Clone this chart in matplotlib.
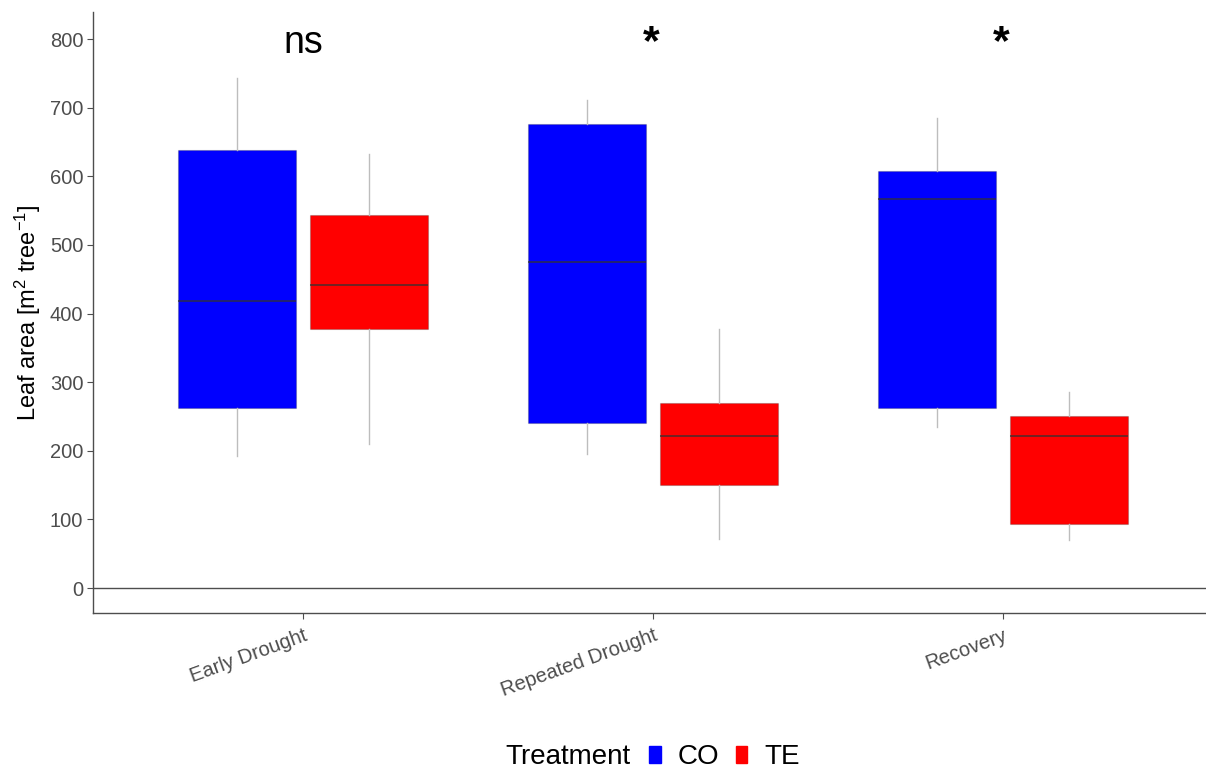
import numpy as np
import matplotlib
matplotlib.use("Agg")
import matplotlib.pyplot as plt
from matplotlib.patches import Patch

plt.rcParams['font.family'] = ['Liberation Sans', 'DejaVu Sans']
plt.rcParams['mathtext.fontset'] = 'custom'
plt.rcParams['mathtext.rm'] = 'Liberation Sans'
plt.rcParams['mathtext.it'] = 'Liberation Sans'
plt.rcParams['mathtext.default'] = 'rm'

periodos = ['Early Drought', 'Repeated Drought', 'Recovery']
tratamentos = ['CO', 'TE']
cores = {'CO': '#0000ff', 'TE': '#ff0000'}

# whisker low, Q1, median, Q3, whisker high (m2 tree-1)
co_whislo = [193, 195, 235]
co_q1 = [262, 240, 262]
co_med = [419, 475, 567]
co_q3 = [639, 677, 608]
co_whishi = [743, 711, 685]

te_whislo = [210, 71, 70]
te_q1 = [378, 150, 93]
te_med = [442, 222, 221]
te_q3 = [544, 270, 251]
te_whishi = [633, 377, 286]

signif = ['ns', '*', '*']

dados = {
    'CO': (co_whislo, co_q1, co_med, co_q3, co_whishi),
    'TE': (te_whislo, te_q1, te_med, te_q3, te_whishi),
}

fig = plt.figure(figsize=(12.06, 7.72), dpi=100)
ax = fig.add_axes([93 / 1206, 1 - 613 / 772, 1 - 93 / 1206, (613 - 12) / 772])

x = np.arange(1, len(periodos) + 1)
desloc = {'CO': -0.189, 'TE': 0.189}

for t in tratamentos:
    lo, q1, med, q3, hi = dados[t]
    stats = [dict(whislo=lo[i], q1=q1[i], med=med[i], q3=q3[i], whishi=hi[i], fliers=[])
             for i in range(len(periodos))]
    ax.bxp(stats, positions=x + desloc[t], widths=0.338, patch_artist=True,
           showcaps=False, showfliers=False,
           boxprops=dict(facecolor=cores[t], edgecolor=(0.2, 0.2, 0.2, 0.25), linewidth=0.8),
           whiskerprops=dict(color='#bdbdbd', linewidth=1.0),
           medianprops=dict(color='#333333', alpha=0.75, linewidth=1.3),
           zorder=3)

ax.axhline(0, color='#4d4d4d', linewidth=1.0, zorder=1)

for xi, s in zip(x, signif):
    if s == 'ns':
        ax.text(xi, 780, s, ha='center', va='baseline', fontsize=27, color='black')
    else:
        ax.text(xi - 0.005, 778, s, ha='center', va='baseline', fontsize=31,
                fontweight='bold', color='black')

ax.set_xlim(0.4, 3.58)
ax.set_ylim(-36.4, 839.6)
ax.set_yticks(np.arange(0, 801, 100))
ax.set_xticks(x)
ax.set_xticklabels(periodos, rotation=20, ha='right', rotation_mode='anchor',
                   fontsize=14.5, color='#4d4d4d')
ax.tick_params(axis='y', labelsize=14.5, labelcolor='#4d4d4d', color='#4d4d4d', length=4, pad=3)
ax.tick_params(axis='x', color='#4d4d4d', length=4, pad=5)
ax.set_ylabel('Leaf area [m$^2$ tree$^{-1}$]', fontsize=17, labelpad=5)

for lado in ['top', 'right']:
    ax.spines[lado].set_visible(False)
for lado in ['left', 'bottom']:
    ax.spines[lado].set_color('#4d4d4d')
    ax.spines[lado].set_linewidth(1.0)

fig.text(505 / 1206, 1 - 757 / 772, 'Treatment', fontsize=20, ha='left', va='center')
handles = [Patch(facecolor=cores[t], edgecolor=cores[t]) for t in tratamentos]
fig.legend(handles, tratamentos, loc='center left', bbox_to_anchor=(649 / 1206, 1 - 757 / 772),
           ncol=2, frameon=False, fontsize=20, handlelength=0.42, handleheight=0.55,
           handletextpad=0.6, columnspacing=0.6, borderpad=0, borderaxespad=0)

fig.savefig('out.png', dpi=100)
